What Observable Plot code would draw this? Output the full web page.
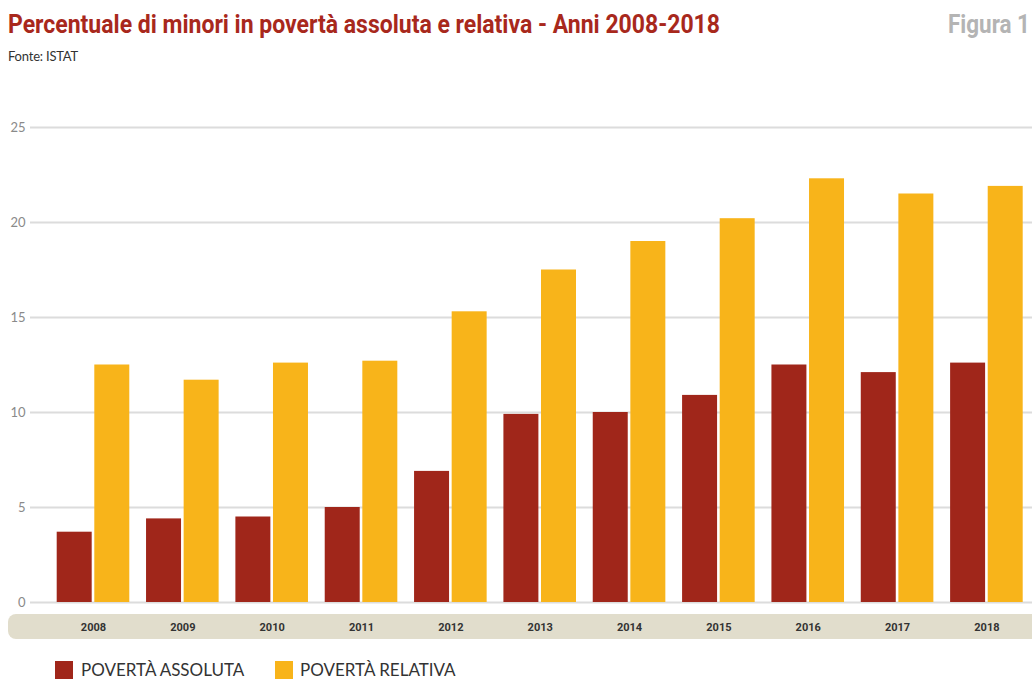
<!DOCTYPE html>
<html>
<head>
<meta charset="utf-8">
<script src="https://cdn.jsdelivr.net/npm/d3@7"></script>
<script src="https://cdn.jsdelivr.net/npm/@observablehq/plot@0.6"></script>
<style>
  html, body { margin: 0; padding: 0; background: #fff; }
  #page { position: relative; width: 1032px; height: 679px; overflow: hidden; }
  .narrow { font-family: Roboto, "Liberation Sans", sans-serif; font-weight: bold; transform-origin: 0 0; }
  #title { position: absolute; left: 8px; top: 9px; font-size: 26px; color: #a8281c; white-space: nowrap; }
  #figura { position: absolute; left: 948px; top: 9px; font-size: 26px; color: #b4b4b4; white-space: nowrap; }
  #source { position: absolute; left: 8px; top: 48px; font-family: Lato, "Open Sans", sans-serif; font-size: 13px; color: #333; letter-spacing: -0.2px; }
  #band { position: absolute; left: 8px; top: 614px; width: 1034px; height: 25px; background: #e1ddcc; border-radius: 8px; }
  #chart { position: absolute; left: 0; top: 80px; }
  .sw { position: absolute; top: 661px; width: 18px; height: 19px; }
  .lbl { position: absolute; top: 661px; font-family: Lato, "Open Sans", sans-serif; font-size: 17px; line-height: 17px; color: #333; white-space: nowrap; }
</style>
</head>
<body>
<div id="page">
  <div id="title" class="narrow">Percentuale di minori in povertà assoluta e relativa - Anni 2008-2018</div>
  <div id="figura" class="narrow">Figura 1</div>
  <div id="source">Fonte: ISTAT</div>
  <div id="band"></div>
  <div id="chart"></div>
</div>
<script>
const years = ["2008","2009","2010","2011","2012","2013","2014","2015","2016","2017","2018"];
const assoluta = [3.7, 4.4, 4.5, 5.0, 6.9, 9.9, 10.0, 10.9, 12.5, 12.1, 12.6];
const relativa = [12.5, 11.7, 12.6, 12.7, 15.3, 17.5, 19.0, 20.2, 22.3, 21.5, 21.9];
const seriesNames = ["POVERTÀ ASSOLUTA", "POVERTÀ RELATIVA"];
const seriesColors = ["#a0261a", "#f8b41a"];
const yTicks = [0, 5, 10, 15, 20, 25];

const dataA = years.map((y, i) => ({year: y, value: assoluta[i]}));
const dataR = years.map((y, i) => ({year: y, value: relativa[i]}));

const chart = Plot.plot({
  width: 1032,
  height: 565,
  marginTop: 47,
  marginBottom: 43,
  marginLeft: 30,
  marginRight: 0,
  style: {background: "transparent", overflow: "visible"},
  x: {domain: years, range: [56.7, 1022.7], paddingInner: 0.1875, paddingOuter: 0, round: false, axis: null, label: null},
  y: {domain: [0, 25], axis: null, label: null},
  marks: [
    Plot.ruleY(yTicks, {stroke: "#dcdcdc", strokeWidth: 2}),
    Plot.axisY(yTicks, {tickSize: 0, tickPadding: 5, label: null, fill: "#8a8a8a", fontSize: 13, fontFamily: "Lato, 'Open Sans', sans-serif"}),
    Plot.axisX({tickSize: 0, tickPadding: 21, label: null, fill: "#333", fontSize: 11, fontWeight: "bold", fontFamily: "Roboto, sans-serif", letterSpacing: "-0.3px"}),
    Plot.barY(dataA, {x: "year", y: "value", fill: seriesColors[0], insetRight: 37.6, insetLeft: 0}),
    Plot.barY(dataR, {x: "year", y: "value", fill: seriesColors[1], insetLeft: 37.6, insetRight: 0})
  ]
});
document.getElementById("chart").appendChild(chart);

function fitWidth(id, target) {
  const el = document.getElementById(id);
  const w = el.getBoundingClientRect().width;
  el.style.transform = `scaleX(${target / w})`;
}
fitWidth("title", 712);
fitWidth("figura", 82);

const page = document.getElementById("page");
const legendX = [[55, 81], [275, 300]];
seriesNames.forEach((name, i) => {
  const sw = document.createElement("div");
  sw.className = "sw";
  sw.style.left = legendX[i][0] + "px";
  sw.style.background = seriesColors[i];
  const lb = document.createElement("div");
  lb.className = "lbl";
  lb.style.left = legendX[i][1] + "px";
  lb.textContent = name;
  page.appendChild(sw); page.appendChild(lb);
});
</script>
</body>
</html>
